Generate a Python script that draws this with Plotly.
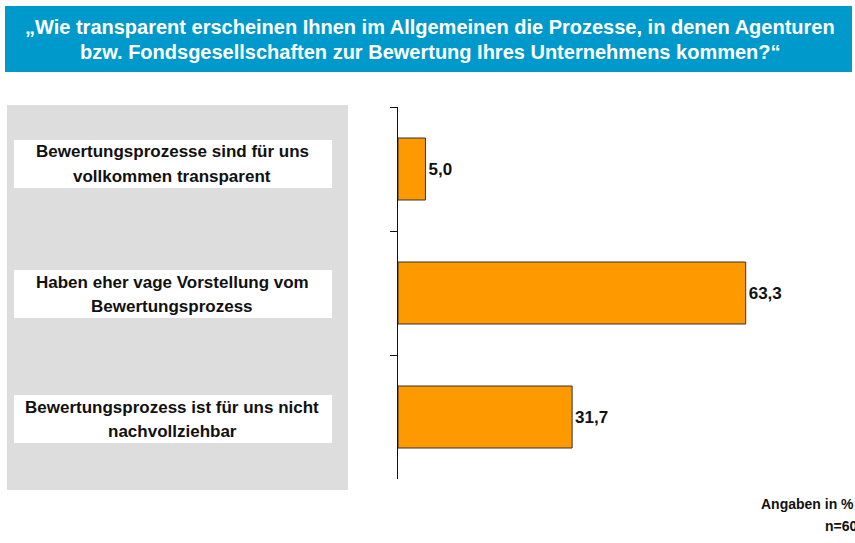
import plotly.graph_objects as go

# Data
categories = [
    "Bewertungsprozesse sind für uns<br>vollkommen transparent",
    "Haben eher vage Vorstellung vom<br>Bewertungsprozess",
    "Bewertungsprozess ist für uns nicht<br>nachvollziehbar",
]
values = [5.0, 63.3, 31.7]
value_labels = ["5,0", "63,3", "31,7"]
title_lines = [
    "„Wie transparent erscheinen Ihnen im Allgemeinen die Prozesse, in denen Agenturen",
    "bzw. Fondsgesellschaften zur Bewertung Ihres Unternehmens kommen?“",
]
footnotes = ["Angaben in %", "n=60"]

W, H = 855, 543
def px(x): return x / W
def py(y): return 1 - y / H

FONT = "Liberation Sans, Arial, sans-serif"

fig = go.Figure()
fig.add_trace(go.Bar(
    y=categories,
    x=values,
    orientation="h",
    width=0.5,
    marker=dict(color="#FF9900", line=dict(color="#333333", width=1)),
    text=value_labels,
    texttemplate="<b>%{text}</b>",
    textposition="outside",
    textfont=dict(family=FONT, size=17, color="#111111"),
    cliponaxis=False,
    hoverinfo="skip",
))

shapes = [
    # title band
    dict(type="rect", xref="paper", yref="paper", x0=px(5), x1=px(852), y0=py(72), y1=py(6),
         fillcolor="#0099CC", line=dict(width=0), layer="below"),
    # gray label panel
    dict(type="rect", xref="paper", yref="paper", x0=px(7), x1=px(348), y0=py(490), y1=py(105),
         fillcolor="#DDDDDD", line=dict(width=0), layer="below"),
]
box_y = [(140, 188), (270, 318), (395, 443)]
annotations = []
for (y0, y1), cat in zip(box_y, categories):
    shapes.append(dict(type="rect", xref="paper", yref="paper", x0=px(14), x1=px(332),
                       y0=py(y1), y1=py(y0), fillcolor="white", line=dict(width=0), layer="below"))
    lines = cat.split("<br>")
    mid = (y0 + y1) / 2
    for i, ln in enumerate(lines):
        yc = mid + (i - (len(lines) - 1) / 2) * 24
        annotations.append(dict(text="<b>%s</b>" % ln, xref="paper", yref="paper", x=px(172), y=py(yc),
                                xanchor="center", yanchor="middle", showarrow=False,
                                font=dict(family=FONT, size=17, color="#111111")))

for i, ln in enumerate(title_lines):
    annotations.append(dict(text="<b>%s</b>" % ln, xref="paper", yref="paper", x=px(430), y=py(27 + i * 25),
                            xanchor="center", yanchor="middle", showarrow=False,
                            font=dict(family=FONT, size=20, color="white")))

annotations.append(dict(text="<b>%s</b>" % footnotes[0], xref="paper", yref="paper", x=px(759), y=py(504),
                        xanchor="left", yanchor="middle", showarrow=False,
                        font=dict(family=FONT, size=14, color="#111111")))
annotations.append(dict(text="<b>%s</b>" % footnotes[1], xref="paper", yref="paper", x=px(823), y=py(526),
                        xanchor="left", yanchor="middle", showarrow=False,
                        font=dict(family=FONT, size=14, color="#111111")))

fig.update_layout(
    width=W, height=H,
    margin=dict(l=0, r=0, t=0, b=0),
    paper_bgcolor="white", plot_bgcolor="white",
    showlegend=False,
    shapes=shapes,
    annotations=annotations,
    xaxis=dict(domain=[px(398), 1], range=[0, 83.2], visible=False, fixedrange=True),
    yaxis=dict(domain=[py(479), py(107)], type="category", range=[2.5, -0.5],
               categoryorder="array", categoryarray=categories,
               showticklabels=False, ticks="outside", tickson="boundaries", ticklen=7,
               tickcolor="#111111", showline=True, linecolor="#111111", linewidth=1,
               showgrid=False, zeroline=False, fixedrange=True),
)

fig.write_html("out.html", config={"displayModeBar": False},
               post_script="document.body.style.margin='0';document.body.style.padding='0';document.documentElement.style.overflow='hidden';")
